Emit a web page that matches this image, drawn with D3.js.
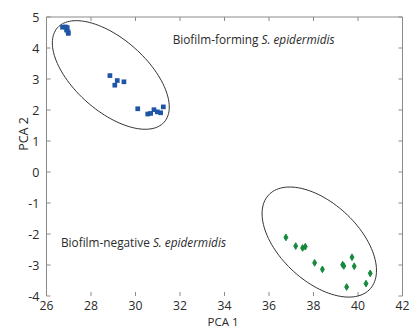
<!DOCTYPE html>
<html><head><meta charset="utf-8">
<script src="https://cdn.jsdelivr.net/npm/d3@7"></script>
<style>body{margin:0;background:#fff}svg{display:block}</style>
</head><body>
<svg id="c" width="411" height="328"></svg>
<script>
const xTicks = [26,28,30,32,34,36,38,40,42];
const yTicks = [-4,-3,-2,-1,0,1,2,3,4,5];
const formingPCA1 = [26.72,26.85,26.93,26.9,26.97,26.98,28.85,29.18,29.07,29.48,30.10,30.55,30.68,30.83,30.98,31.13,31.25];
const formingPCA2 = [4.67,4.68,4.66,4.58,4.52,4.47,3.11,2.95,2.80,2.91,2.04,1.87,1.89,2.01,1.94,1.91,2.10];
const negativePCA1 = [36.76,37.20,37.51,37.63,38.05,38.40,39.31,39.36,39.73,39.83,39.49,40.36,40.55];
const negativePCA2 = [-2.11,-2.39,-2.45,-2.41,-2.93,-3.14,-2.99,-3.03,-2.75,-3.04,-3.71,-3.60,-3.27];
// ellipses: centre, major and minor half-axis vectors (data units)
const ellipseCentres = [[28.89,3.13],[38.26,-2.26]];
const ellipseMajor = [[2.40,-1.52],[2.30,-1.50]];
const ellipseMinor = [[-1.07,-0.871],[-1.15,-0.95]];
const labels = ["Biofilm-forming ", "Biofilm-negative "];
const labelItalic = "S. epidermidis";
const labelPos = [[31.67,4.13],[26.65,-2.41]];

const svg = d3.select("#c");
const m = {l:46.5, t:17, r:402.5, b:296};
const x = d3.scaleLinear().domain([26,42]).range([m.l, m.r]);
const y = d3.scaleLinear().domain([-4,5]).range([m.b, m.t]);
const axisCol = "#8a8a8a", textCol = "#2a2a2a";
const font = "'Open Sans', 'Liberation Sans', sans-serif";

// box lines (no bottom line)
const g = svg.append("g");
g.append("line").attr("x1",m.l).attr("x2",m.l).attr("y1",m.t).attr("y2",m.b).attr("stroke",axisCol);
g.append("line").attr("x1",m.r).attr("x2",m.r).attr("y1",m.t).attr("y2",m.b).attr("stroke",axisCol);
g.append("line").attr("x1",m.l).attr("x2",m.r).attr("y1",m.t).attr("y2",m.t).attr("stroke",axisCol);

// ticks
const tl = 4;
xTicks.forEach(t=>{
  g.append("line").attr("x1",x(t)).attr("x2",x(t)).attr("y1",m.b).attr("y2",m.b-tl).attr("stroke",axisCol);
  g.append("line").attr("x1",x(t)).attr("x2",x(t)).attr("y1",m.t).attr("y2",m.t+tl).attr("stroke",axisCol);
  g.append("text").attr("x",x(t)).attr("y",m.b+13.5).attr("text-anchor","middle")
   .attr("font-family",font).attr("font-size",12.2).attr("fill",textCol).text(t);
});
yTicks.forEach(t=>{
  g.append("line").attr("x1",m.l).attr("x2",m.l+tl).attr("y1",y(t)).attr("y2",y(t)).attr("stroke",axisCol);
  g.append("line").attr("x1",m.r).attr("x2",m.r-tl).attr("y1",y(t)).attr("y2",y(t)).attr("stroke",axisCol);
  g.append("text").attr("x",m.l-7).attr("y",y(t)+4.5).attr("text-anchor","end")
   .attr("font-family",font).attr("font-size",12.5).attr("fill",textCol).text(t);
});
svg.append("text").attr("x",223).attr("y",325.6).attr("text-anchor","middle")
  .attr("font-family",font).attr("font-size",11.5).attr("fill",textCol).text("PCA 1");
svg.append("text").attr("transform","translate(28,134) rotate(-90)").attr("text-anchor","middle")
  .attr("font-family",font).attr("font-size",12.5).attr("fill",textCol).text("PCA 2");

// ellipses
ellipseCentres.forEach((c,i)=>{
  const pts = d3.range(0,361,3).map(d=>{
    const a = d*Math.PI/180;
    return [c[0]+ellipseMajor[i][0]*Math.cos(a)+ellipseMinor[i][0]*Math.sin(a),
            c[1]+ellipseMajor[i][1]*Math.cos(a)+ellipseMinor[i][1]*Math.sin(a)];
  });
  svg.append("path").attr("d", d3.line().x(p=>x(p[0])).y(p=>y(p[1])).curve(d3.curveLinearClosed)(pts))
    .attr("fill","none").attr("stroke","#333").attr("stroke-width",1);
});

// points
svg.append("g").selectAll("path").data(formingPCA1.map((v,i)=>[v,formingPCA2[i]])).join("path")
  .attr("d", d3.symbol(d3.symbolSquare, 22)())
  .attr("transform",d=>`translate(${x(d[0])},${y(d[1])})`).attr("fill","#1f55a6");
svg.append("g").selectAll("path").data(negativePCA1.map((v,i)=>[v,negativePCA2[i]])).join("path")
  .attr("d", d3.symbol(d3.symbolDiamond, 13)())
  .attr("transform",d=>`translate(${x(d[0])},${y(d[1])})`).attr("fill","#138a3c")
  .attr("stroke","#138a3c").attr("stroke-width",1);

// labels
labels.forEach((l,i)=>{
  const t = svg.append("text").attr("x",x(labelPos[i][0])).attr("y",y(labelPos[i][1]))
    .attr("font-family",font).attr("font-size",11.8).attr("fill",textCol);
  t.append("tspan").text(l);
  t.append("tspan").attr("font-style","italic").text(labelItalic);
});
</script>
</body></html>
